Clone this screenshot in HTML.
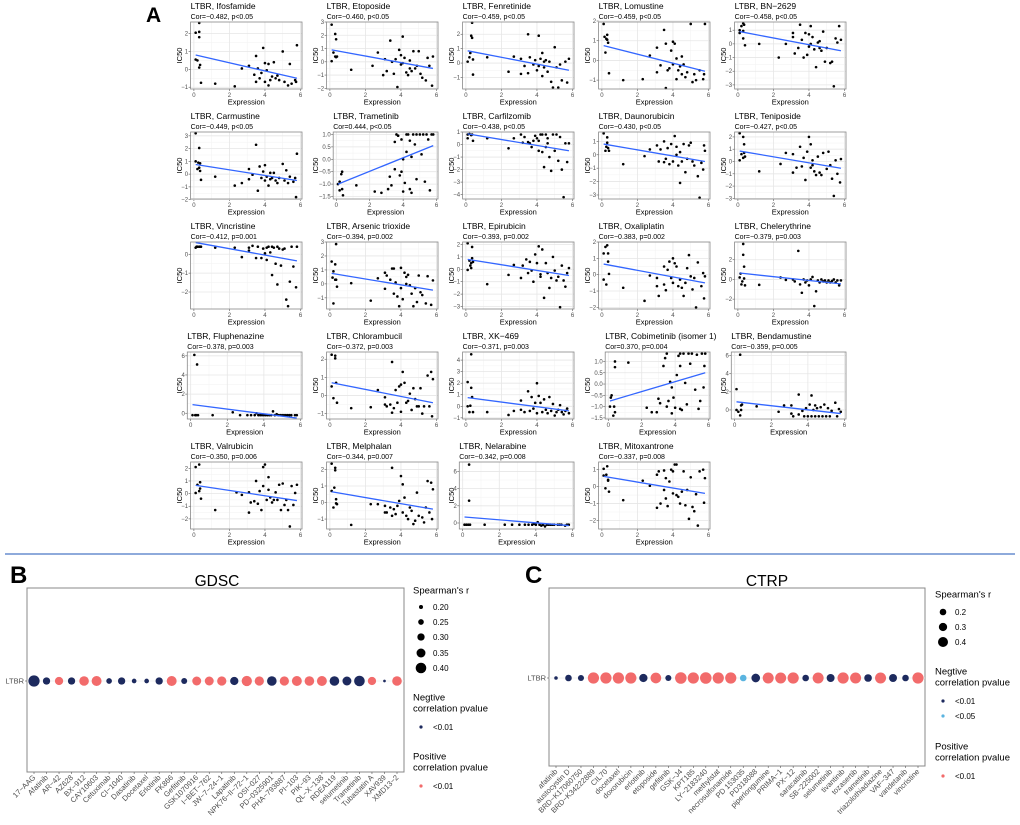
<!DOCTYPE html>
<html><head><meta charset="utf-8">
<style>
html,body{margin:0;padding:0;background:#fff;}
svg{display:block;font-family:"Liberation Sans",Arial,sans-serif;}
</style></head>
<body>
<svg id="fig" width="1020" height="825" viewBox="0 0 1020 825" xmlns="http://www.w3.org/2000/svg">
<text x="146" y="22" font-size="21" font-weight="bold">A</text>
<text x="10" y="583" font-size="24" font-weight="bold">B</text>
<text x="525" y="583" font-size="24" font-weight="bold">C</text>
<line x1="5" y1="554" x2="1015" y2="554" stroke="#8eaadb" stroke-width="2"/>
<g id="gA"></g>
<g id="gB"></g>
<g id="gC"></g>
</svg>
<script>
// ---------- Panel A data ----------
const drugNames = ["Ifosfamide","Etoposide","Fenretinide","Lomustine","BN\u22122629","Carmustine","Trametinib","Carfilzomib","Daunorubicin","Teniposide","Vincristine","Arsenic trioxide","Epirubicin","Oxaliplatin","Chelerythrine","Fluphenazine","Chlorambucil","XK\u2212469","Cobimetinib (isomer 1)","Bendamustine","Valrubicin","Melphalan","Nelarabine","Mitoxantrone"];
const corLabels = ["Cor=\u22120.482, p<0.05","Cor=\u22120.460, p<0.05","Cor=\u22120.459, p<0.05","Cor=\u22120.459, p<0.05","Cor=\u22120.458, p<0.05","Cor=\u22120.449, p<0.05","Cor=0.444, p<0.05","Cor=\u22120.438, p<0.05","Cor=\u22120.430, p<0.05","Cor=\u22120.427, p<0.05","Cor=\u22120.412, p=0.001","Cor=\u22120.394, p=0.002","Cor=\u22120.393, p=0.002","Cor=\u22120.383, p=0.002","Cor=\u22120.379, p=0.003","Cor=\u22120.378, p=0.003","Cor=\u22120.372, p=0.003","Cor=\u22120.371, p=0.003","Cor=0.370, p=0.004","Cor=\u22120.359, p=0.005","Cor=\u22120.350, p=0.006","Cor=\u22120.344, p=0.007","Cor=\u22120.342, p=0.008","Cor=\u22120.337, p=0.008"];
const yMins = [-1.1,-2.05,-1.8,-1.45,-3.3,-1.95,-1.6,-4.35,-3.3,-3.05,-2.9,-1.8,-3.2,-2.1,-3.0,-0.6,-1.3,-1.1,-1.55,-1.0,-2.8,-1.6,-0.7,-2.5];
const yMaxs = [2.65,3.0,2.85,1.95,1.6,3.3,1.1,1.0,1.7,2.4,0.65,3.0,2.2,2.0,3.8,6.4,2.4,4.7,1.42,6.4,2.5,2.45,7.1,1.45];
const yTicks = [[-1,0,1,2],[-2,-1,0,1,2,3],[-1,0,1,2],[-1,0,1,2],[-3,-2,-1,0,1],[-2,-1,0,1,2,3],[-1.5,-1.0,-0.5,0.0,0.5,1.0],[-4,-3,-2,-1,0,1],[-3,-2,-1,0,1],[-3,-2,-1,0,1,2],[-2,-1,0],[-1,0,1,2,3],[-3,-2,-1,0,1,2],[-2,-1,0,1,2],[-2,0,2],[0,2,4,6],[-1,0,1,2],[-1,0,1,2,3,4],[-1.5,-1.0,-0.5,0.0,0.5,1.0],[0,2,4,6],[-2,-1,0,1,2],[-1,0,1,2],[0,2,4,6],[-2,-1,0,1]];
const lineStart = [0.8,0.9,0.85,0.75,0.9,0.75,-1.0,0.85,0.8,0.85,0.62,0.75,0.8,0.65,0.65,0.9,0.7,0.75,-0.75,0.9,0.65,0.65,0.7,0.6];
const lineEnd = [-0.5,-0.5,-0.5,-0.55,-0.5,-0.5,0.55,-0.5,-0.5,-0.55,-0.35,-0.45,-0.5,-0.5,-0.45,-0.5,-0.4,-0.4,0.5,-0.4,-0.55,-0.4,-0.3,-0.4];
const pointData = [
"0.1 2.05,0.3 2.6,0.3 2.1,0.3 1.8,0.1 0.55,0.2 0.5,0.3 0.1,0.35 0.25,0.4 -0.75,1.2 -0.8,2.3 -0.95,2.7 0.05,3.1 0.2,3.4 -0.3,3.5 0.75,3.6 0.05,3.8 -0.2,3.9 1.2,4 0.35,4.1 -0.05,4.2 0.3,4.3 -0.6,4.4 -0.4,4.5 0.4,4.6 -0.5,4.7 -0.35,4.8 -0.6,5 1.0,5.1 -0.7,5.3 -0.9,5.4 0.3,5.5 -0.8,5.8 1.35,5.7 -0.6,5.75 -0.7,3.5 -0.7,3.7 -0.5,4.0 -0.7,4.2 -0.9",
"0.1 2.8,0.3 2.1,0.35 1.7,0.2 0.7,0.3 0.4,0.4 0.4,0.1 0.05,0.35 0.35,1.2 -0.6,2.4 -0.3,2.7 0.7,3.0 -1.0,3.1 0.2,3.2 -0.7,3.4 1.6,3.5 0.0,3.6 -0.9,3.8 -1.9,3.9 0.9,4 0.5,4.1 1.9,4.1 -0.1,4.2 0.3,4.3 -0.8,4.4 -1.0,4.5 0.1,4.6 -0.7,4.7 0.8,4.8 -0.5,4.9 -0.3,5.0 0.8,5.1 -0.9,5.2 -1.2,5.4 -1.4,5.5 0.3,5.6 -0.3,5.75 -1.8,5.8 0.4,3.7 0.2,4.5 -0.5,4.0 -0.2",
"0.1 0.1,0.2 0.4,0.3 1.9,0.35 1.75,0.35 2.8,0.25 0.7,0.4 0.25,0.4 -0.8,1.2 0.4,2.4 -0.6,2.7 0.45,3.1 -0.75,3.1 0.3,3.3 -0.2,3.5 2.0,3.5 -0.7,3.6 0.4,3.8 -0.1,3.9 0.2,4.0 -0.5,4.1 1.9,4.2 0.3,4.3 -0.9,4.3 0.7,4.4 -0.3,4.5 0.2,4.6 -0.6,4.7 0.1,4.8 -1.3,4.9 -1.7,5.0 1.1,5.1 -0.3,5.2 -1.7,5.3 -0.1,5.4 -1.2,5.6 0.1,5.7 -1.35,5.8 0.3,4.1 -0.2,4.4 0.1",
"0.1 1.85,0.15 1.2,0.25 1.1,0.3 1.3,0.35 0.9,0.2 0.4,0.3 1.05,0.4 -0.65,1.2 -1.0,2.3 -0.95,2.7 0.25,3.1 0.65,3.1 -0.6,3.3 -0.25,3.5 1.55,3.6 0.85,3.6 -1.4,3.7 -0.5,3.8 -0.4,3.9 0.5,4.0 -0.2,4.0 0.95,4.1 0.85,4.2 -0.95,4.2 0.1,4.3 -0.5,4.4 -0.3,4.5 -0.7,4.6 -0.2,4.7 -0.85,4.8 -0.6,5.0 1.85,5.1 -1.1,5.2 -0.7,5.3 -1.0,5.5 -0.5,5.7 -0.95,5.8 1.85,5.75 -0.7,4.5 0.2",
"0.1 0.8,0.1 1.0,0.2 1.3,0.3 1.5,0.35 1.4,0.3 0.4,0.4 -0.1,0.3 0.95,1.2 0.0,2.3 -1.0,2.7 0.0,3.1 0.5,3.1 0.8,3.2 -0.7,3.4 -0.3,3.5 1.4,3.6 0.3,3.7 -1.0,3.8 0.8,3.9 -0.8,4.0 0.7,4.1 1.3,4.1 0.0,4.2 0.5,4.3 -0.4,4.4 -1.7,4.5 0.1,4.6 -0.3,4.7 -0.5,4.8 0.9,4.9 -1.3,5.0 -0.3,5.2 -1.4,5.3 -1.3,5.4 -3.1,5.5 0.4,5.6 0.1,5.7 1.3,5.8 0.3,4.0 -0.2,4.6 0.2",
"0.1 3.2,0.3 2.05,0.1 1.0,0.2 0.4,0.25 0.9,0.3 0.5,0.35 0.85,0.4 -0.45,0.35 0.25,1.2 -0.2,2.3 -0.9,2.7 -0.7,3.1 0.4,3.1 -0.4,3.3 -0.05,3.5 2.3,3.6 -1.3,3.7 0.6,3.8 -0.3,3.9 0.2,4.0 0.7,4.1 -0.2,4.2 -0.9,4.3 0.1,4.4 -0.3,4.5 0.1,4.6 -0.5,4.7 -0.7,4.8 -0.3,5.0 0.8,5.1 -0.5,5.2 0.3,5.3 -0.7,5.4 -0.2,5.6 -0.6,5.75 -1.8,5.8 1.6,5.7 -0.3,4.0 -0.5,4.3 -0.4",
"0.1 -1.0,0.2 -0.9,0.3 -0.6,0.35 -0.5,0.35 -1.2,0.4 -1.45,0.2 -1.25,1.2 -1.05,2.3 -1.3,2.7 -1.35,3.1 -1.2,3.2 -0.7,3.3 -1.05,3.5 0.7,3.5 -0.4,3.6 1.0,3.7 0.95,3.8 -0.65,3.9 -0.5,4.0 0.0,4.0 -1.3,4.1 -0.95,4.2 1.0,4.2 0.3,4.3 1.0,4.4 0.75,4.4 -1.2,4.5 -1.35,4.6 1.0,4.7 0.6,4.8 -0.8,4.8 1.0,5.0 1.0,5.1 0.2,5.2 1.0,5.3 -0.9,5.4 1.0,5.5 0.8,5.6 -1.25,5.7 1.0,5.8 1.0,4.5 0.1,3.9 0.8",
"0.1 0.8,0.1 0.5,0.2 0.85,0.3 0.75,0.35 0.8,0.4 0.3,1.2 0.5,2.4 -0.3,2.7 0.5,3.1 0.8,3.2 0.15,3.3 0.6,3.5 0.2,3.6 0.1,3.7 -0.2,3.8 0.3,3.9 0.7,4.0 0.5,4.1 -0.5,4.2 0.8,4.3 -0.6,4.4 -1.8,4.5 0.8,4.5 -0.2,4.6 0.5,4.7 -1.0,4.8 -2.1,4.9 0.8,5.0 -0.5,5.1 0.8,5.2 -1.3,5.3 0.6,5.4 -2.0,5.5 -4.2,5.6 0.1,5.7 -1.4,5.8 0.1,4.1 0.3,4.3 0.8,4.6 0.1",
"0.1 1.6,0.2 0.3,0.3 0.9,0.3 1.3,0.35 0.5,0.4 0.3,0.25 0.6,1.2 -0.7,2.4 -0.1,2.7 0.4,3.1 0.7,3.2 -0.5,3.3 0.4,3.5 1.0,3.5 -0.55,3.6 -0.3,3.7 0.5,3.8 -0.7,3.9 0.8,4.0 -0.5,4.1 1.4,4.2 0.6,4.3 -0.8,4.4 -2.1,4.4 0.2,4.5 -0.5,4.6 0.8,4.7 -1.3,4.8 -0.3,4.9 0.7,5.0 0.9,5.1 -0.5,5.2 -0.8,5.4 -1.6,5.5 -3.2,5.6 -0.6,5.7 -1.1,5.8 0.3,5.75 0.7,4.2 0.0",
"0.1 2.3,0.1 0.1,0.2 0.6,0.3 2.0,0.35 1.4,0.35 0.7,0.4 0.4,0.3 0.3,1.2 -0.8,2.4 -0.2,2.7 0.7,3.1 0.6,3.1 -0.9,3.3 -0.5,3.5 1.2,3.6 -0.4,3.7 0.3,3.8 -1.5,3.9 0.8,4.0 2.0,4.1 1.4,4.1 -0.5,4.2 0.1,4.3 -0.8,4.4 -1.1,4.5 0.4,4.6 -0.9,4.7 -1.1,4.8 0.7,5.0 -0.6,5.1 0.8,5.2 -0.3,5.3 -1.4,5.4 -2.8,5.5 0.1,5.6 -1.0,5.75 -1.7,5.8 0.2,4.2 -0.3",
"0.1 0.35,0.15 0.4,0.2 0.4,0.3 0.4,0.35 0.4,0.4 0.4,1.2 0.35,2.3 0.35,2.7 -0.15,3.1 0.35,3.1 0.2,3.3 0.45,3.5 -0.2,3.6 0.4,3.8 -0.2,3.9 0.3,4.0 0.05,4.1 0.35,4.2 0.4,4.3 0.1,4.4 0.4,4.4 -1.1,4.5 0.35,4.6 -0.5,4.7 0.4,4.7 -1.6,4.8 0.3,4.9 -0.6,5.0 0.25,5.1 0.3,5.2 -2.4,5.3 -2.75,5.4 -1.45,5.5 0.4,5.6 -0.65,5.75 -1.75,5.8 0.4,4.1 -0.3",
"0.1 1.6,0.15 0.45,0.2 0.9,0.3 1.4,0.35 0.3,0.35 2.85,0.4 -0.2,0.3 0.3,0.2 -1.4,1.2 0.05,2.3 -1.2,2.7 0.4,3.1 0.8,3.1 -0.35,3.2 0.6,3.4 0.3,3.5 1.1,3.6 -0.7,3.6 1.1,3.7 0.1,3.8 -0.9,3.9 -1.6,4.0 1.15,4.0 -0.3,4.1 -1.1,4.2 0.8,4.3 0.5,4.4 0.65,4.5 -0.1,4.6 -0.7,4.7 -1.6,4.8 -0.3,4.9 -1.3,5.0 0.6,5.1 -0.6,5.2 -0.8,5.4 -1.4,5.5 0.55,5.7 -1.5,5.8 0.25,4.3 0.0",
"0.1 2.1,0.1 -0.05,0.2 0.7,0.25 0.3,0.3 0.5,0.35 1.8,0.4 0.6,0.35 0.9,0.3 0.1,1.2 -1.2,2.4 -0.45,2.7 0.35,3.1 -0.7,3.2 0.3,3.4 0.8,3.5 -0.3,3.6 0.6,3.7 -0.1,3.8 -1.0,3.9 1.2,4.0 0.5,4.1 1.85,4.2 -0.6,4.3 1.6,4.4 -2.3,4.5 0.5,4.6 -0.3,4.7 -1.5,4.8 -0.7,4.9 1.0,5.0 -0.1,5.1 -0.9,5.2 -0.6,5.3 -3.05,5.4 0.3,5.5 -0.9,5.6 -1.4,5.7 -0.3,5.8 0.1,4.2 -0.4",
"0.1 1.3,0.1 -0.3,0.2 1.7,0.3 1.8,0.35 1.3,0.35 0.8,0.4 0.05,0.25 -0.6,1.2 -0.8,2.4 -1.6,2.7 -0.05,3.1 -0.2,3.1 -0.7,3.2 -1.3,3.5 0.5,3.5 -0.6,3.6 -0.95,3.7 0.3,3.8 0.8,3.9 -0.2,4.0 1.0,4.0 -0.5,4.1 0.7,4.2 0.5,4.3 -0.7,4.4 -0.3,4.5 -0.8,4.6 -1.3,4.7 -0.5,4.8 0.4,4.9 1.2,5.0 -0.1,5.1 -0.9,5.2 -0.2,5.3 -2.0,5.4 0.75,5.6 -0.7,5.7 0.1,5.75 -1.45,5.8 -0.1",
"0.1 0.2,0.15 0.6,0.2 -0.5,0.3 3.6,0.3 2.5,0.35 1.3,0.35 0.1,0.4 -0.6,0.25 -0.2,1.2 -0.55,2.4 0.2,2.7 -0.05,3.1 0.0,3.2 -0.2,3.4 2.9,3.5 -0.5,3.6 -1.35,3.7 0.0,3.8 -0.3,3.9 -0.1,4.0 -0.6,4.1 0.0,4.2 0.25,4.3 -2.7,4.4 -1.2,4.5 -0.1,4.6 -0.3,4.7 0.0,4.8 -0.2,4.9 -0.1,5.0 -0.3,5.1 -0.1,5.2 -0.3,5.3 -0.15,5.4 0.0,5.5 -0.3,5.6 -0.1,5.7 -0.6,5.8 -0.1",
"0.1 -0.2,0.2 6.1,0.3 -0.2,0.35 5.1,0.4 -0.2,0.25 -0.2,1.2 -0.2,2.3 0.1,2.7 -0.2,3.1 -0.2,3.3 -0.2,3.5 -0.2,3.6 0.0,3.7 -0.2,3.8 -0.2,3.9 -0.2,4.0 -0.2,4.1 -0.2,4.2 -0.2,4.3 -0.2,4.4 -0.2,4.5 0.2,4.6 -0.2,4.7 -0.1,4.8 -0.2,4.9 -0.2,5.0 -0.2,5.1 -0.2,5.2 -0.2,5.3 -0.2,5.4 -0.2,5.5 -0.2,5.7 -0.2,5.8 -0.2",
"0.1 2.25,0.1 0.5,0.2 -0.15,0.3 2.2,0.3 2.05,0.35 0.7,0.4 -0.4,1.2 -0.7,2.3 -0.65,2.7 0.3,3.1 -0.5,3.1 -0.1,3.2 -0.6,3.4 -0.5,3.5 1.85,3.5 -0.95,3.6 -0.7,3.7 0.3,3.8 -0.4,3.9 0.5,4.0 0.6,4.0 -0.9,4.1 1.3,4.2 0.7,4.3 -0.4,4.4 -0.3,4.5 0.1,4.6 -0.8,4.7 0.4,4.8 -0.2,4.9 -0.6,5.0 -0.6,5.1 0.4,5.2 -1.0,5.3 -0.6,5.5 1.1,5.6 -0.6,5.7 1.3,5.75 -1.15,5.8 0.9",
"0.1 2.1,0.1 0.0,0.2 -0.5,0.3 4.5,0.3 1.6,0.35 0.8,0.4 -0.5,0.25 0.05,1.2 -0.5,2.4 -0.75,2.7 -0.4,3.1 0.5,3.1 -0.3,3.3 -0.5,3.5 1.3,3.6 -0.4,3.7 0.8,3.8 -0.2,3.9 0.3,4.0 2.0,4.0 -0.6,4.1 0.9,4.2 0.3,4.3 -0.5,4.4 0.6,4.5 -0.3,4.6 -0.6,4.7 0.8,4.8 -0.4,4.9 0.2,5.0 -0.8,5.1 -0.5,5.2 -0.3,5.3 0.1,5.4 -0.5,5.5 -0.7,5.6 -0.4,5.7 -0.2,5.8 -0.6",
"0.1 -1.0,0.15 -0.6,0.2 -0.5,0.3 -1.4,0.35 -1.0,0.4 1.0,0.4 0.75,0.4 -1.25,1.2 0.95,2.3 -1.05,2.6 -1.25,2.9 -1.25,3.0 -0.65,3.1 -0.85,3.3 0.8,3.4 1.15,3.5 1.35,3.5 -1.0,3.6 -0.75,3.7 0.1,3.8 -1.3,3.8 -0.15,3.9 -0.6,4.0 -1.05,4.1 0.4,4.2 1.25,4.3 1.35,4.3 -1.1,4.4 -1.15,4.5 1.35,4.6 0.05,4.7 -0.9,4.8 1.35,4.9 0.9,5.0 1.35,5.2 -0.25,5.3 1.3,5.4 -1.1,5.5 -0.75,5.6 1.35,5.7 -0.15,5.75 0.8,5.8 1.35,4.3 0.8",
"0.1 2.3,0.1 0.0,0.2 -0.2,0.3 6.1,0.3 -0.6,0.35 0.5,0.35 0.0,0.4 0.6,1.2 0.4,2.4 -0.2,2.7 0.5,3.1 -0.4,3.1 0.5,3.2 -0.7,3.5 1.7,3.5 -0.5,3.7 -0.1,3.8 -0.7,3.9 0.2,4.0 -0.7,4.1 0.6,4.2 1.6,4.2 -0.7,4.3 0.0,4.4 0.5,4.4 -0.7,4.5 0.2,4.6 -0.7,4.7 0.3,4.8 -0.7,4.9 0.6,5.0 -0.7,5.1 0.2,5.2 -0.7,5.3 -0.1,5.5 0.8,5.6 -0.7,5.7 0.1,5.8 -0.2",
"0.1 2.1,0.1 0.05,0.2 0.7,0.3 2.3,0.35 0.9,0.35 0.4,0.3 0.2,0.4 -0.4,1.2 -1.3,2.4 0.1,2.7 -0.1,3.1 0.1,3.1 -1.5,3.2 -0.7,3.4 -0.6,3.5 1.0,3.6 -0.8,3.7 0.2,3.8 -1.3,3.9 2.1,3.9 0.6,4.0 2.3,4.1 -0.5,4.2 1.3,4.2 0.3,4.3 -0.3,4.4 -0.7,4.5 -0.5,4.6 0.1,4.7 -0.5,4.8 0.7,4.9 -1.3,5.0 0.8,5.1 -0.9,5.2 -0.5,5.3 -1.3,5.4 -2.6,5.5 0.6,5.6 -0.9,5.7 0.05,5.8 0.7",
"0.1 2.35,0.1 0.7,0.2 -0.3,0.3 2.1,0.3 1.95,0.25 0.9,0.35 0.2,0.4 -0.1,0.35 -0.05,1.2 -1.35,2.3 -0.1,2.7 -0.1,3.1 -0.6,3.1 -0.2,3.2 -0.6,3.4 -0.3,3.5 2.1,3.5 -0.8,3.6 -0.4,3.7 -0.7,3.8 -0.2,3.9 0.1,4.0 1.6,4.1 1.1,4.1 -0.6,4.2 0.3,4.3 -0.8,4.4 -1.0,4.5 -0.3,4.6 -0.5,4.7 -1.3,4.8 -1.1,4.9 0.6,5.0 -0.8,5.2 -0.9,5.3 -1.2,5.4 -0.3,5.5 1.3,5.6 -0.6,5.7 1.2,5.75 -1.0,5.8 0.8",
"0.1 -0.2,0.2 -0.2,0.3 -0.2,0.35 6.8,0.35 2.6,0.4 -0.2,1.2 -0.2,2.3 -0.2,2.7 -0.2,3.1 -0.2,3.4 -0.2,3.6 -0.2,3.8 -0.2,3.9 -0.1,4.0 -0.2,4.1 0.1,4.2 -0.2,4.3 -0.3,4.4 -0.2,4.5 -0.4,4.6 -0.2,4.7 -0.2,4.8 -0.2,4.9 -0.2,5.0 -0.2,5.2 -0.2,5.3 -0.2,5.4 -0.2,5.6 -0.3,5.7 -0.2,5.8 -0.2",
"0.1 1.05,0.1 0.65,0.2 -0.1,0.25 0.7,0.3 1.2,0.35 0.35,0.4 -0.3,0.35 0.4,1.2 -0.8,2.3 0.35,2.7 0.05,3.1 -1.25,3.1 0.7,3.2 0.9,3.3 -1.0,3.5 0.95,3.5 -0.2,3.6 0.5,3.6 -0.7,3.7 -1.15,3.8 0.3,3.9 1.0,4.0 0.9,4.0 -0.4,4.1 1.3,4.2 1.3,4.2 -0.5,4.3 -0.6,4.4 -1.0,4.5 -0.3,4.6 0.9,4.7 -1.1,4.8 -0.2,4.9 -1.9,5.0 0.55,5.1 -1.2,5.2 -1.45,5.3 -0.45,5.4 -2.3,5.5 0.9,5.7 1.0,5.75 -0.95,5.8 0.5"
];
const xTicks = [0,2,4,6];

// ---------- Panel B/C data ----------
const gdscDrugs = ["17\u2212AAG","Afatinib","AR\u221242","AZ628","BX\u2212912","CAY10603","Cetuximab","CI\u22121040","Dasatinib","Docetaxel","Erlotinib","FK866","Gefitinib","GSK1070916","I\u2212BET\u2212762","JW\u22127\u221224\u22121","Lapatinib","NPK76\u2212II\u221272\u22121","OSI\u2212027","PD\u22120325901","PHA\u2212793887","PI\u2212103","PIK\u221293","QL\u2212X\u2212138","RDEA119","selumetinib","Trametinib","Tubastatin A","XAV939","XMD13\u22122"];
const gdscR = [0.42,0.30,0.33,0.30,0.37,0.38,0.25,0.30,0.22,0.22,0.30,0.38,0.26,0.35,0.35,0.36,0.33,0.39,0.36,0.37,0.36,0.38,0.37,0.38,0.37,0.35,0.40,0.33,0.16,0.37];
const gdscSign = ["n","n","p","n","p","p","n","n","n","n","n","p","n","p","p","p","n","p","p","n","p","p","p","p","n","n","n","p","n","p"];
const ctrpDrugs = ["afatinib","austocystin D","BRD\u2212K17060750","BRD\u2212K34222889","CIL70","docetaxel","doxorubicin","erlotinib","etoposide","gefitinib","GSK\u2212J4","KPT185","LY\u22122183240","methylstat","necrosulfonamide","PD 153035","PD318088","piperlongumine","PRIMA\u22121","PX\u221212","saracatinib","SB\u2212225002","selumetinib","tivantinib","tozasertib","trametinib","triazolothiadiazine","VAF\u2212347","vandetanib","vincristine"];
const ctrpR = [0.02,0.2,0.17,0.47,0.47,0.47,0.47,0.3,0.44,0.17,0.49,0.47,0.49,0.47,0.47,0.2,0.32,0.46,0.46,0.47,0.2,0.46,0.28,0.47,0.46,0.26,0.46,0.28,0.2,0.47];
const ctrpSign = ["n","n","n","p","p","p","p","n","p","n","p","p","p","p","p","n2","n","p","p","p","n","p","n","p","p","n","p","n","n","p"];

const NS="http://www.w3.org/2000/svg";
function mk(tag,attrs,parent){const e=document.createElementNS(NS,tag);for(const k in attrs)e.setAttribute(k,attrs[k]);if(parent)parent.appendChild(e);return e;}
function txt(parent,x,y,s,attrs){const t=mk("text",Object.assign({x:x,y:y},attrs||{}),parent);t.textContent=s;return t;}
function fmtTick(v,dec){let s=dec?v.toFixed(1):String(v);return s.replace("-","\u2212");}

// ---------- draw Panel A ----------
const gA=document.getElementById("gA");
const xDom=[-0.185,6.085];
for(let i=0;i<drugNames.length;i++){
  const c=i%5, r=Math.floor(i/5);
  const ticks=yTicks[i];
  const dec=ticks.some(v=>!Number.isInteger(v));
  const maxChars=Math.max(...ticks.map(v=>fmtTick(v,dec).length));
  const origin=174+136*c;
  const left=origin+8+maxChars*3.3+2, right=302+136*c;
  const top=22+110*r, bottom=top+67;
  const g=mk("g",{},gA);
  
  
  const sx=v=>left+(v-xDom[0])/(xDom[1]-xDom[0])*(right-left);
  const sy=v=>bottom-(v-yMins[i])/(yMaxs[i]-yMins[i])*(bottom-top);
  mk("rect",{x:left,y:top,width:right-left,height:bottom-top,fill:"#fff"},g);
  // minor grid
  [1,3,5].forEach(v=>mk("line",{x1:sx(v),x2:sx(v),y1:top,y2:bottom,stroke:"#f2f2f2","stroke-width":0.5},g));
  for(let k=0;k<ticks.length-1;k++){const m=(ticks[k]+ticks[k+1])/2;mk("line",{x1:left,x2:right,y1:sy(m),y2:sy(m),stroke:"#f2f2f2","stroke-width":0.5},g);}
  // major grid + ticks
  xTicks.forEach(v=>{mk("line",{x1:sx(v),x2:sx(v),y1:top,y2:bottom,stroke:"#e6e6e6","stroke-width":0.8},g);
    mk("line",{x1:sx(v),x2:sx(v),y1:bottom,y2:bottom+2,stroke:"#555","stroke-width":0.6},g);
    txt(g,sx(v),bottom+8,String(v),{"font-size":6,fill:"#4d4d4d","text-anchor":"middle"});});
  ticks.forEach(v=>{const y=sy(v);mk("line",{x1:left,x2:right,y1:y,y2:y,stroke:"#e6e6e6","stroke-width":0.8},g);
    mk("line",{x1:left-2,x2:left,y1:y,y2:y,stroke:"#555","stroke-width":0.6},g);
    txt(g,left-2.5,y+2,fmtTick(v,dec),{"font-size":6,fill:"#4d4d4d","text-anchor":"end"});});
  // points
  pointData[i].split(",").forEach(p=>{const a=p.trim().split(/\s+/).map(Number);
    const dot=mk("circle",{cx:sx(a[0]),cy:sy(a[1]),r:1.3,fill:"#000"},g);
    
    });
  const ln=mk("line",{x1:sx(0.1),y1:sy(lineStart[i]),x2:sx(5.8),y2:sy(lineEnd[i]),stroke:"#3366ff","stroke-width":1.3},g);
  
  
  mk("rect",{x:left,y:top,width:right-left,height:bottom-top,fill:"none",stroke:"#888","stroke-width":0.8},g);
  const t1=txt(g,left,top-13,"LTBR, "+drugNames[i],{"font-size":8.5,fill:"#000"});
  
  
  const t2=txt(g,left,top-3,corLabels[i],{"font-size":7,fill:"#000"});
  
  
  const xl=txt(g,(left+right)/2,bottom+15.5,"Expression",{"font-size":7.5,fill:"#000","text-anchor":"middle"});
  
  
  const yl=txt(g,0,0,"IC50",{"font-size":7.5,fill:"#000","text-anchor":"middle",transform:"translate("+(origin+8)+","+((top+bottom)/2)+") rotate(-90)"});
  
  
}

// ---------- dot plots ----------
const colors={n:"#1d2a5e",p:"#f26b6b",n2:"#5ab4e0"};
function dotPlot(gid,title,drugs,rs,signs,box,rowY,titleX,rad,legend){
  const g=document.getElementById(gid);
  mk("rect",{x:box.l,y:box.t,width:box.r-box.l,height:box.b-box.t,fill:"#fff",stroke:"#888","stroke-width":1},g);
  mk("line",{x1:box.l,x2:box.r,y1:rowY,y2:rowY,stroke:"#ebebeb","stroke-width":0.8},g);
  const tt=txt(g,titleX,586,title,{"font-size":15.5,fill:"#000","text-anchor":"middle"});
  
  
  mk("line",{x1:box.l-2,x2:box.l,y1:rowY,y2:rowY,stroke:"#555","stroke-width":0.6},g);
  const yl=txt(g,box.l-3,rowY+2.5,"LTBR",{"font-size":7.5,fill:"#4d4d4d","text-anchor":"end"});
  
  
  const n=drugs.length, x0=box.l+7, x1=box.r-7;
  const sx=i=>x0+i*(x1-x0)/(n-1);
  for(let i=0;i<n;i++){
    const x=sx(i);
    const c=mk("circle",{cx:x,cy:rowY,r:Math.max(1.1,rad(rs[i])),fill:colors[signs[i]]},g);
    
    
    mk("line",{x1:x,x2:x,y1:box.b,y2:box.b+2,stroke:"#555","stroke-width":0.6},g);
    const t=txt(g,0,0,drugs[i],{"font-size":7.5,fill:"#4d4d4d","text-anchor":"end",transform:"translate("+(x+2)+","+(box.b+6)+") rotate(-45)"});
    
    
  }
  // legend
  const L=legend;
  const lt=txt(g,L.x,L.titleY+3.5,"Spearman's r",{"font-size":9.5,fill:"#000"});
  
  
  L.sizes.forEach((v,k)=>{mk("circle",{cx:L.cx,cy:L.sizeY[k],r:rad(v),fill:"#000"},g);
    const e=txt(g,L.tx,L.sizeY[k]+3,L.sizeLabels[k],{"font-size":8,fill:"#000"});
    
    });
  txt(g,L.x,L.negY+3.5,"Negtive",{"font-size":9.5,fill:"#000"});
  txt(g,L.x,L.negY+14.5,"correlation  pvalue",{"font-size":9.5,fill:"#000"});
  L.negItems.forEach(it=>{mk("circle",{cx:L.cx,cy:it.y,r:1.6,fill:colors[it.c]},g);
    const e=txt(g,L.tx,it.y+3,it.t,{"font-size":8,fill:"#000"});
    
    });
  txt(g,L.x,L.posY+3.5,"Positive",{"font-size":9.5,fill:"#000"});
  txt(g,L.x,L.posY+14.5,"correlation  pvalue",{"font-size":9.5,fill:"#000"});
  mk("circle",{cx:L.cx,cy:L.posItemY,r:1.6,fill:colors.p},g);
  txt(g,L.tx,L.posItemY+3,"<0.01",{"font-size":8,fill:"#000"});
}
dotPlot("gB","GDSC",gdscDrugs,gdscR,gdscSign,{l:27,r:404,t:588,b:772},681,217,v=>2+(v-0.2)*16.5,
  {x:413,cx:421,tx:433,titleY:590,sizes:[0.2,0.25,0.3,0.35,0.4],sizeLabels:["0.20","0.25","0.30","0.35","0.40"],sizeY:[607,622,637,653,668],
   negY:697,negItems:[{y:727,c:"n",t:"<0.01"}],posY:756,posItemY:786});
dotPlot("gC","CTRP",ctrpDrugs,ctrpR,ctrpSign,{l:549,r:925,t:588,b:766},678,767,v=>3.3+(v-0.2)*8.5,
  {x:935,cx:943,tx:955,titleY:594,sizes:[0.2,0.3,0.4],sizeLabels:["0.2","0.3","0.4"],sizeY:[612,627,642],
   negY:671,negItems:[{y:701,c:"n",t:"<0.01"},{y:716,c:"n2",t:"<0.05"}],posY:746,posItemY:776});
</script>
</body></html>
